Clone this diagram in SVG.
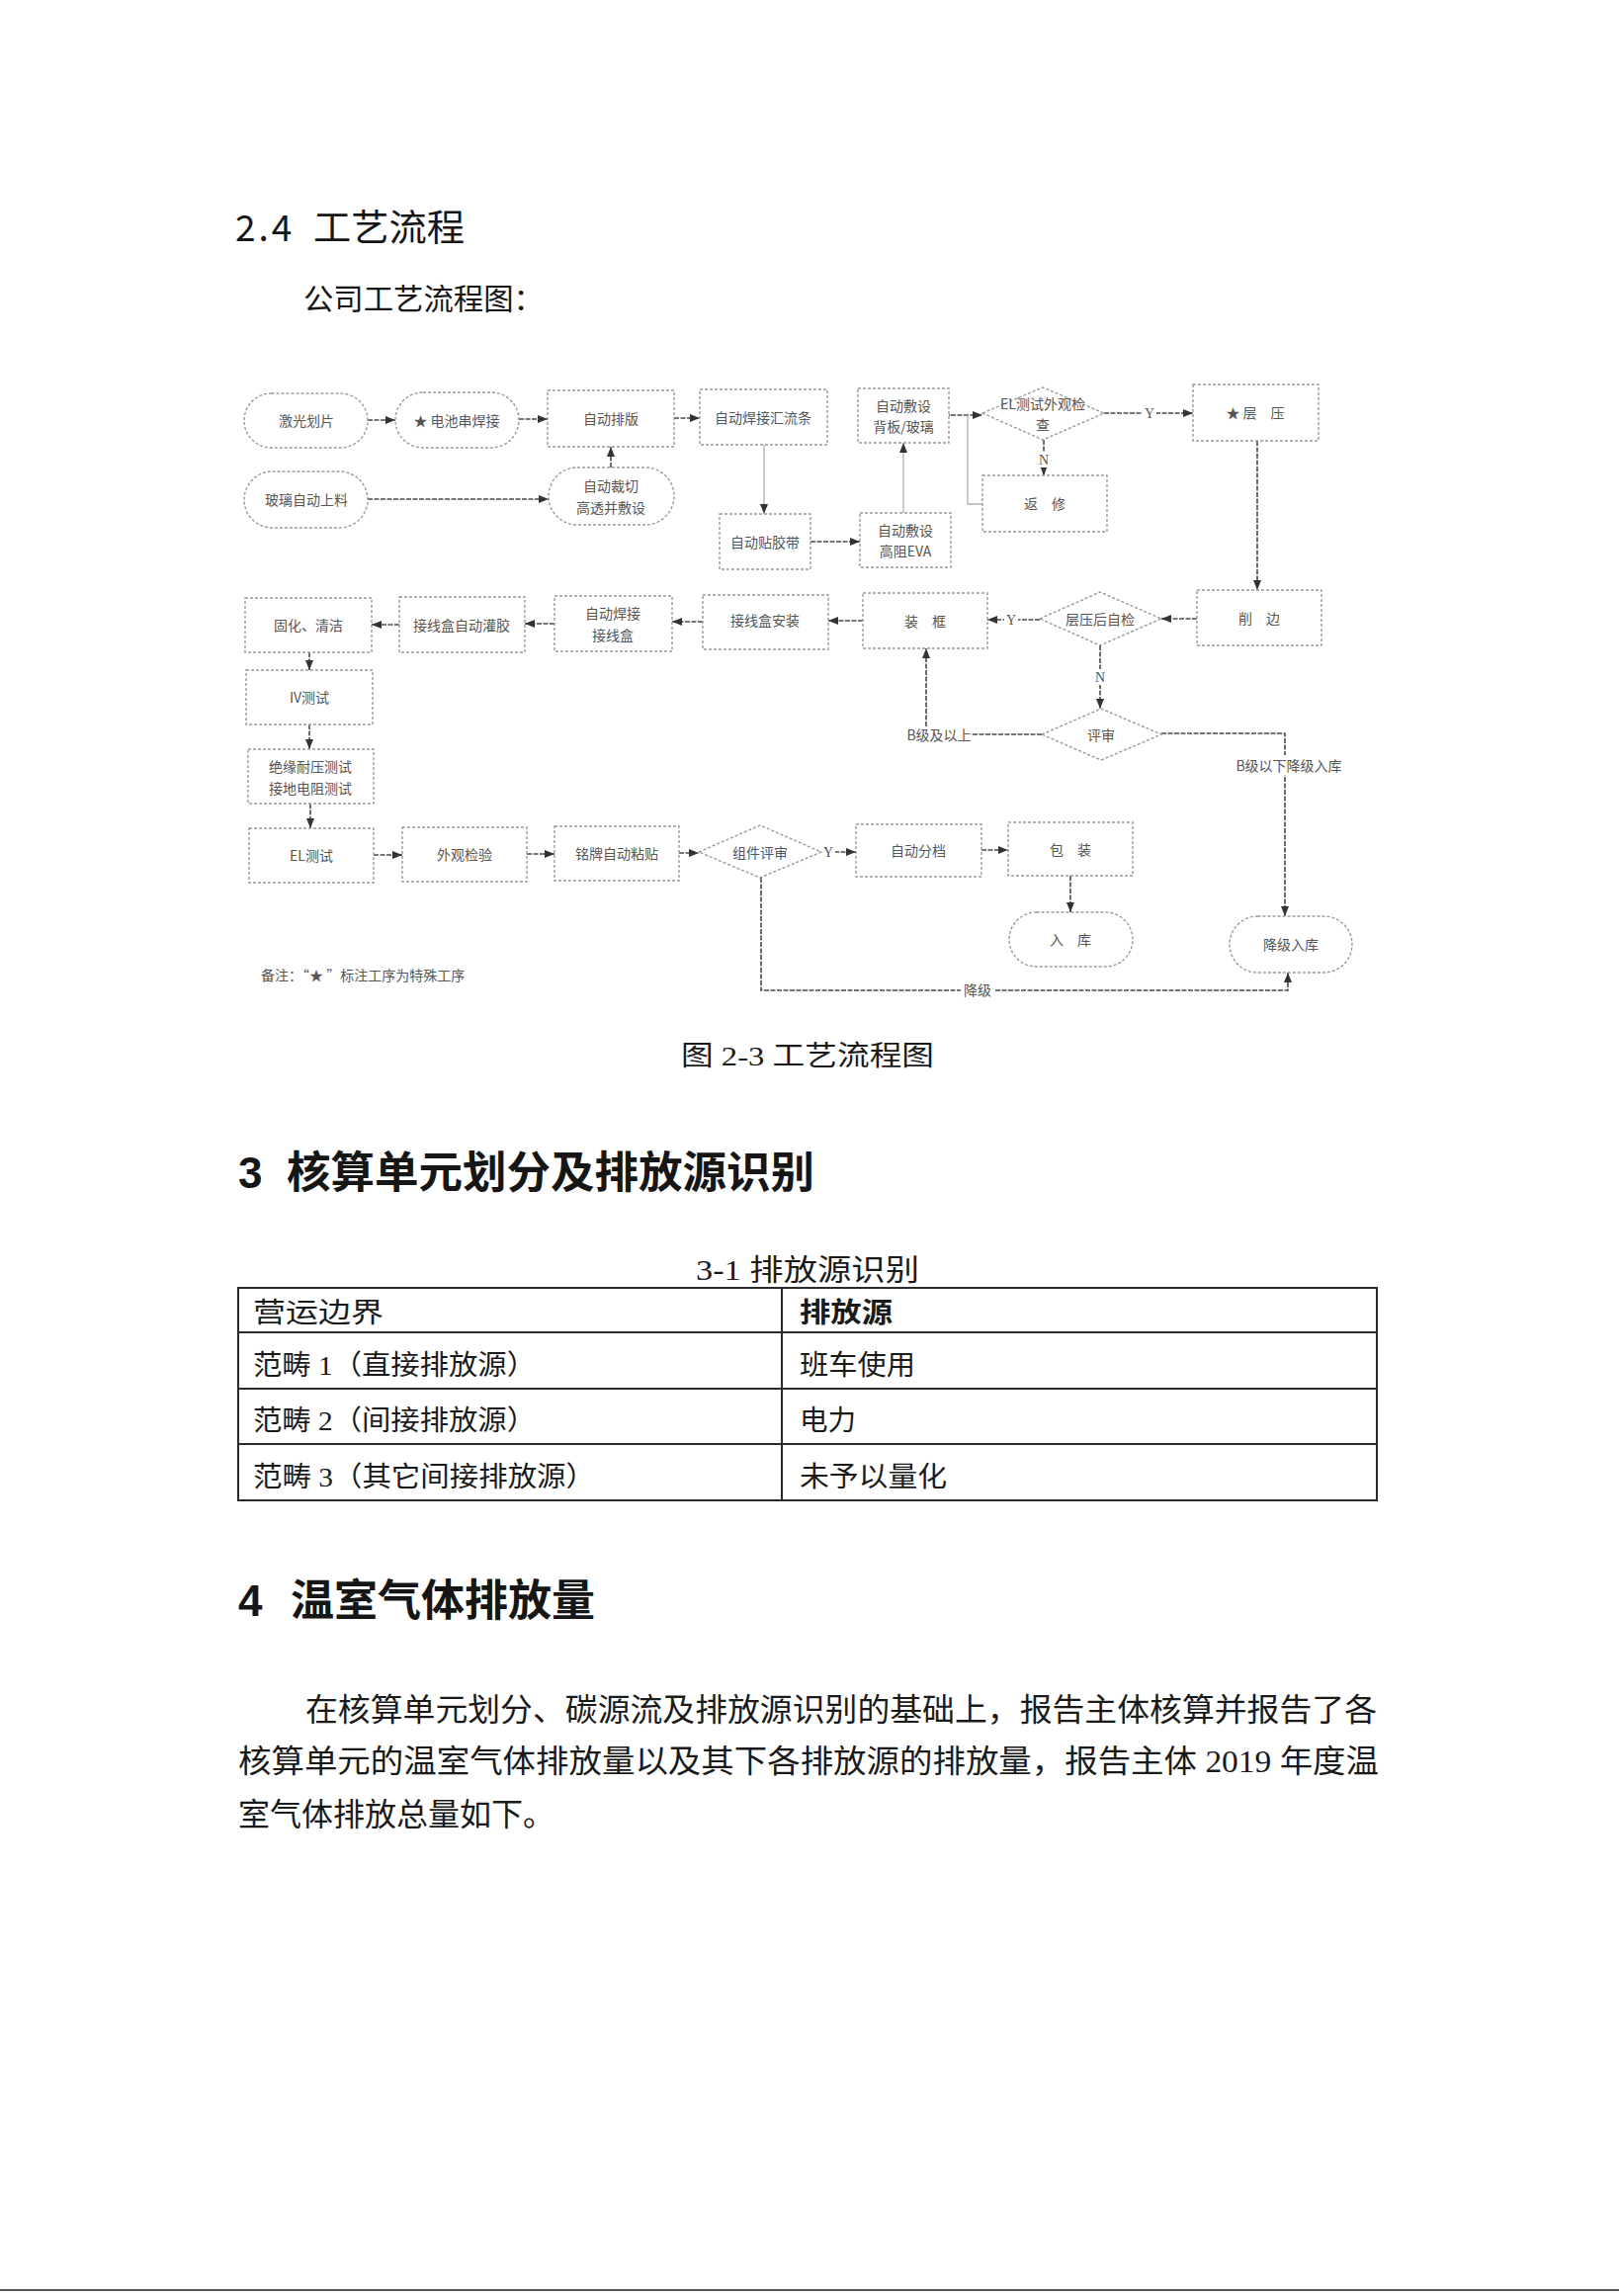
<svg xmlns="http://www.w3.org/2000/svg" width="1638" height="2323" viewBox="0 0 1638 2323">
<defs>
<style>
.box{fill:#fff;stroke:#9a9a9a;stroke-width:1.4;stroke-dasharray:3 2}
.t{font-family:"Noto Sans CJK SC","Noto Sans",sans-serif;font-size:14px;fill:#555;text-anchor:middle;dominant-baseline:central}
.lb{font-family:"Liberation Serif","Noto Sans CJK SC",serif;font-size:14px;fill:#555;text-anchor:middle;dominant-baseline:central}
.cn{fill:none;stroke:#4a4a4a;stroke-width:1.6;stroke-dasharray:5 1.5}
.cf{fill:none;stroke:#b0b0b0;stroke-width:1.3}
.h{font-family:"Noto Sans CJK SC","Liberation Sans",sans-serif;fill:#161616}
.hb{font-family:"Liberation Sans","Noto Sans CJK SC",sans-serif;font-weight:bold;fill:#161616}
.s{font-family:"Liberation Serif","Noto Sans CJK SC",serif;fill:#1a1a1a}
.grid{fill:none;stroke:#2a2a2a;stroke-width:2}
</style>
<marker id="ar" markerUnits="userSpaceOnUse" markerWidth="10" markerHeight="8" refX="10" refY="4" orient="auto">
<path d="M0,0 L10,4 L0,8 z" fill="#333"/>
</marker>
</defs>
<rect width="1638" height="2323" fill="#fff"/>

<!-- page text -->
<text class="h" x="238" y="244" font-size="37" letter-spacing="3">2.4</text>
<text class="h" x="317" y="244" font-size="37" textLength="153" lengthAdjust="spacingAndGlyphs">工艺流程</text>
<text class="h" x="307" y="313" font-size="30" textLength="243" lengthAdjust="spacingAndGlyphs">公司工艺流程图：</text>

<!-- connectors -->
<g id="connectors">
<path class="cn" d="M372,425 H400" marker-end="url(#ar)"/>
<path class="cn" d="M525,424 H554" marker-end="url(#ar)"/>
<path class="cn" d="M372,505 H555" marker-end="url(#ar)"/>
<path class="cn" d="M618,473 V452" marker-end="url(#ar)"/>
<path class="cn" d="M682,423 H708" marker-end="url(#ar)"/>
<path class="cf" d="M773,450 V520" marker-end="url(#ar)"/>
<path class="cn" d="M820,548 H870" marker-end="url(#ar)"/>
<path class="cf" d="M914,519 V448" marker-end="url(#ar)"/>
<path class="cn" d="M962,420 H994" marker-start="url(#ar)" marker-end="url(#ar)"/>
<path class="cf" d="M994,510 H979 V420"/>
<path class="cn" d="M1117,418 H1207" marker-end="url(#ar)"/>
<path class="cn" d="M1056,445 V481" marker-end="url(#ar)"/>
<path class="cn" d="M1272,446 V597" marker-end="url(#ar)"/>
<path class="cn" d="M1211,626 H1175" marker-end="url(#ar)"/>
<path class="cn" d="M1052,627 H999" marker-end="url(#ar)"/>
<path class="cn" d="M873,628 H838" marker-end="url(#ar)"/>
<path class="cn" d="M711,629 H680" marker-end="url(#ar)"/>
<path class="cn" d="M561,631 H531" marker-end="url(#ar)"/>
<path class="cn" d="M404,632 H376" marker-end="url(#ar)"/>
<path class="cn" d="M313,660 V678" marker-end="url(#ar)"/>
<path class="cn" d="M313,733 V758" marker-end="url(#ar)"/>
<path class="cn" d="M314,813 V838" marker-end="url(#ar)"/>
<path class="cn" d="M1113,653 V717" marker-end="url(#ar)"/>
<path class="cn" d="M1054,743 H982"/>
<path class="cn" d="M937,735 V656" marker-end="url(#ar)"/>
<path class="cn" d="M1175,742 H1300 V927" marker-end="url(#ar)"/>
<path class="cn" d="M378,865 H407" marker-end="url(#ar)"/>
<path class="cn" d="M533,864 H561" marker-end="url(#ar)"/>
<path class="cn" d="M687,863 H707" marker-end="url(#ar)"/>
<path class="cn" d="M831,862 H866" marker-end="url(#ar)"/>
<path class="cn" d="M993,860 H1020" marker-end="url(#ar)"/>
<path class="cn" d="M1083,886 V923" marker-end="url(#ar)"/>
<path class="cn" d="M770,888 V1002 H1303 V984" marker-end="url(#ar)"/>
<!-- connector labels -->
<rect x="1156" y="410" width="14" height="16" fill="#fff"/>
<text class="lb" x="1163" y="418">Y</text>
<rect x="1048" y="457" width="16" height="16" fill="#fff"/>
<text class="lb" x="1056" y="465">N</text>
<rect x="1016" y="619" width="14" height="16" fill="#fff"/>
<text class="lb" x="1023" y="627">Y</text>
<rect x="1105" y="677" width="16" height="16" fill="#fff"/>
<text class="lb" x="1113" y="685">N</text>
<rect x="831" y="854" width="14" height="16" fill="#fff"/>
<text class="lb" x="838" y="862">Y</text>
<text class="t" x="950" y="743">B级及以上</text>
<rect x="1246" y="764" width="116" height="20" fill="#fff"/>
<text class="t" x="1304" y="774">B级以下降级入库</text>
<rect x="972" y="992" width="34" height="20" fill="#fff"/>
<text class="t" x="989" y="1001">降级</text>
</g>

<!-- nodes -->
<g id="n-jiguang"><rect class="box" x="247" y="398" width="125" height="55" rx="27.5"/><text class="t" x="310" y="425">激光划片</text></g>
<g id="n-chuanhan"><rect class="box" x="400" y="397" width="125" height="56" rx="28"/><text class="t" x="462" y="425">★ 电池串焊接</text></g>
<g id="n-paiban"><rect class="box" x="554" y="395" width="128" height="57"/><text class="t" x="618" y="423">自动排版</text></g>
<g id="n-huiliu"><rect class="box" x="708" y="394" width="129" height="56"/><text class="t" x="772" y="422">自动焊接汇流条</text></g>
<g id="n-beiban"><rect class="box" x="868" y="393" width="92" height="55"/><text class="t" x="914" y="410">自动敷设</text><text class="t" x="914" y="431">背板/玻璃</text></g>
<g id="d-el"><polygon class="box" points="994,418 1055,392 1117,418 1055,445"/><text class="t" x="1055" y="408">EL测试外观检</text><text class="t" x="1055" y="429">查</text></g>
<g id="n-cengya"><rect class="box" x="1207" y="389" width="127" height="57"/><text class="t" x="1270" y="417">★ 层　压</text></g>
<g id="n-boli"><rect class="box" x="247" y="477" width="125" height="57" rx="28.5"/><text class="t" x="310" y="505">玻璃自动上料</text></g>
<g id="n-caiqie"><rect class="box" x="555" y="473" width="127" height="58" rx="29"/><text class="t" x="618" y="491">自动裁切</text><text class="t" x="618" y="513">高透并敷设</text></g>
<g id="n-fanxiu"><rect class="box" x="994" y="481" width="126" height="57"/><text class="t" x="1057" y="509">返　修</text></g>
<g id="n-jiaodai"><rect class="box" x="728" y="520" width="92" height="56"/><text class="t" x="774" y="548">自动贴胶带</text></g>
<g id="n-eva"><rect class="box" x="870" y="519" width="92" height="55"/><text class="t" x="916" y="536">自动敷设</text><text class="t" x="916" y="557">高阻EVA</text></g>
<g id="n-xiaobian"><rect class="box" x="1211" y="597" width="126" height="56"/><text class="t" x="1274" y="625">削　边</text></g>
<g id="d-zijian"><polygon class="box" points="1052,626 1113,599 1175,626 1113,653"/><text class="t" x="1113" y="626">层压后自检</text></g>
<g id="n-zhuangkuang"><rect class="box" x="873" y="600" width="126" height="56"/><text class="t" x="936" y="628">装　框</text></g>
<g id="n-anzhuang"><rect class="box" x="711" y="602" width="127" height="55"/><text class="t" x="774" y="627">接线盒安装</text></g>
<g id="n-hanjiehe"><rect class="box" x="561" y="603" width="119" height="56"/><text class="t" x="620" y="620">自动焊接</text><text class="t" x="620" y="642">接线盒</text></g>
<g id="n-guanjiao"><rect class="box" x="404" y="604" width="127" height="56"/><text class="t" x="467" y="632">接线盒自动灌胶</text></g>
<g id="n-guhua"><rect class="box" x="248" y="605" width="128" height="55"/><text class="t" x="312" y="632">固化、清洁</text></g>
<g id="n-iv"><rect class="box" x="249" y="678" width="128" height="55"/><text class="t" x="313" y="705">IV测试</text></g>
<g id="n-jueyuan"><rect class="box" x="251" y="758" width="127" height="55"/><text class="t" x="314" y="775">绝缘耐压测试</text><text class="t" x="314" y="797">接地电阻测试</text></g>
<g id="d-pingshen"><polygon class="box" points="1054,743 1114,717 1175,743 1114,769"/><text class="t" x="1114" y="743">评审</text></g>
<g id="n-elcs"><rect class="box" x="252" y="838" width="126" height="55"/><text class="t" x="315" y="865">EL测试</text></g>
<g id="n-waiguan"><rect class="box" x="407" y="837" width="126" height="55"/><text class="t" x="470" y="864">外观检验</text></g>
<g id="n-mingpai"><rect class="box" x="561" y="836" width="126" height="55"/><text class="t" x="624" y="863">铭牌自动粘贴</text></g>
<g id="d-zujian"><polygon class="box" points="707,862 769,835 831,862 769,888"/><text class="t" x="769" y="862">组件评审</text></g>
<g id="n-fendang"><rect class="box" x="866" y="834" width="127" height="53"/><text class="t" x="929" y="860">自动分档</text></g>
<g id="n-baozhuang"><rect class="box" x="1020" y="832" width="126" height="54"/><text class="t" x="1083" y="859">包　装</text></g>
<g id="n-ruku"><rect class="box" x="1021" y="923" width="125" height="55" rx="27.5"/><text class="t" x="1083" y="950">入　库</text></g>
<g id="n-jiangji"><rect class="box" x="1244" y="927" width="124" height="57" rx="28.5"/><text class="t" x="1306" y="955">降级入库</text></g>
<text class="t" x="264" y="986" style="text-anchor:start">备注：“★ ”标注工序为特殊工序</text>

<!-- caption and headings -->
<text class="s" x="689" y="1078" font-size="28" textLength="256" lengthAdjust="spacingAndGlyphs">图 2-3 工艺流程图</text>
<text class="hb" x="241" y="1202" font-size="44">3</text>
<text class="hb" x="290" y="1202" font-size="44" textLength="534" lengthAdjust="spacingAndGlyphs">核算单元划分及排放源识别</text>
<text class="s" x="704" y="1295" font-size="30" textLength="226" lengthAdjust="spacingAndGlyphs">3-1 排放源识别</text>

<!-- table -->
<g id="table">
<rect class="grid" x="241" y="1303" width="1152" height="215"/>
<path class="grid" d="M241,1348 H1393 M241,1405 H1393 M241,1461 H1393 M791,1303 V1518"/>
<text class="s" x="256" y="1338" font-size="28" textLength="132" lengthAdjust="spacingAndGlyphs">营运边界</text>
<text class="s" x="809" y="1338" font-size="28" font-weight="bold" textLength="94" lengthAdjust="spacingAndGlyphs">排放源</text>
<text class="s" x="256" y="1391" font-size="28" textLength="286" lengthAdjust="spacingAndGlyphs">范畴 1（直接排放源）</text>
<text class="s" x="809" y="1391" font-size="28" textLength="117" lengthAdjust="spacingAndGlyphs">班车使用</text>
<text class="s" x="256" y="1447" font-size="28" textLength="286" lengthAdjust="spacingAndGlyphs">范畴 2（间接排放源）</text>
<text class="s" x="809" y="1447" font-size="28" textLength="57" lengthAdjust="spacingAndGlyphs">电力</text>
<text class="s" x="256" y="1504" font-size="28" textLength="346" lengthAdjust="spacingAndGlyphs">范畴 3（其它间接排放源）</text>
<text class="s" x="809" y="1504" font-size="28" textLength="149" lengthAdjust="spacingAndGlyphs">未予以量化</text>
</g>

<text class="hb" x="241" y="1635" font-size="44">4</text>
<text class="hb" x="294" y="1635" font-size="44" textLength="308" lengthAdjust="spacingAndGlyphs">温室气体排放量</text>

<text class="s" x="309" y="1741" font-size="32" textLength="1084" lengthAdjust="spacingAndGlyphs">在核算单元划分、碳源流及排放源识别的基础上，报告主体核算并报告了各</text>
<text class="s" x="241" y="1793" font-size="32" textLength="1154" lengthAdjust="spacingAndGlyphs">核算单元的温室气体排放量以及其下各排放源的排放量，报告主体 2019 年度温</text>
<text class="s" x="241" y="1847" font-size="32" textLength="320" lengthAdjust="spacingAndGlyphs">室气体排放总量如下。</text>

<line x1="0" y1="2317" x2="1638" y2="2317" stroke="#555" stroke-width="2"/>
</svg>
